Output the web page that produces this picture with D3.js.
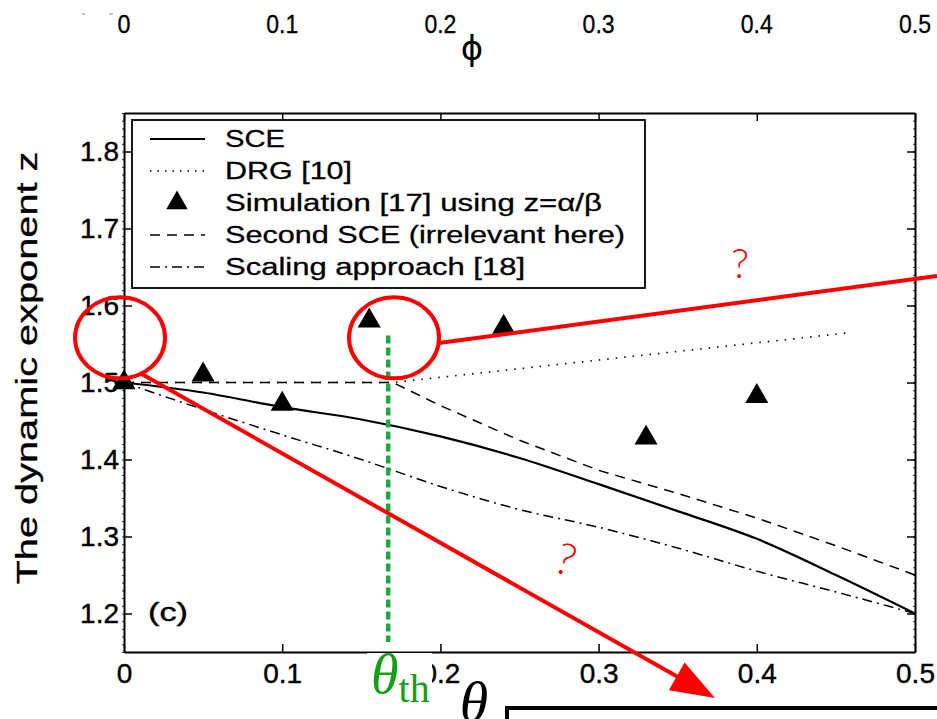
<!DOCTYPE html>
<html>
<head>
<meta charset="utf-8">
<script src="https://cdn.jsdelivr.net/npm/d3@7/dist/d3.min.js"></script>
<style>
  html, body { margin: 0; padding: 0; background: #fff; }
  svg { display: block; }
</style>
</head>
<body>
<svg id="chart" width="937" height="719"></svg>
<script>
// ---------------- data ----------------
const thetaTicks = [0, 0.1, 0.2, 0.3, 0.4, 0.5];
const phiTicks = [0, 0.1, 0.2, 0.3, 0.4, 0.5];
const zTicks = [1.2, 1.3, 1.4, 1.5, 1.6, 1.7, 1.8];

const sceTheta = [0, 0.05, 0.1, 0.15, 0.2, 0.25, 0.3, 0.35, 0.4, 0.45, 0.5];
const sceZ     = [1.5, 1.487, 1.468, 1.452, 1.43, 1.402, 1.368, 1.333, 1.297, 1.25, 1.2];

const drgTheta = [0, 0.17, 0.46];
const drgZ     = [1.5, 1.5, 1.565];

const simTheta = [0, 0.05, 0.1, 0.155, 0.24, 0.33, 0.4];
const simZ     = [1.5, 1.51, 1.472, 1.58, 1.572, 1.428, 1.482];

const secondTheta = [0, 0.17, 0.2, 0.25, 0.3, 0.35, 0.4, 0.45, 0.5];
const secondZ     = [1.5, 1.5, 1.47, 1.425, 1.386, 1.356, 1.324, 1.288, 1.25];

const scalingTheta = [0, 0.05, 0.1, 0.15, 0.2, 0.25, 0.3, 0.35, 0.4, 0.45, 0.5];
const scalingZ     = [1.5, 1.465, 1.432, 1.4, 1.365, 1.335, 1.312, 1.285, 1.255, 1.228, 1.2];

const legendLabels = ["SCE", "DRG [10]", "Simulation [17] using z=\u03b1/\u03b2",
                      "Second SCE (irrelevant here)", "Scaling approach [18]"];
const thetaTh = 0.167;

// ---------------- layout ----------------
const svg = d3.select("#chart");
const X0 = 124, X1 = 915, Y0 = 652, Y1 = 113;
const x = d3.scaleLinear().domain([0, 0.5]).range([X0, X1]);
const y = d3.scaleLinear().domain([1.15, 1.85]).range([Y0, Y1]);
const FONT = "'Liberation Sans', Arial, Helvetica, sans-serif";
const SERIF = "'Liberation Serif', 'Times New Roman', serif";

svg.append("rect").attr("width", 937).attr("height", 719).attr("fill", "#fff");

// ---------------- top phi axis (detached) ----------------
const gTop = svg.append("g").attr("font-family", FONT);
gTop.selectAll("text.phi").data(phiTicks).join("text")
  .attr("x", d => x(d)).attr("y", 33)
  .attr("text-anchor", "middle").attr("font-size", 25)
  .attr("textLength", d => d === 0 ? 13 : 32).attr("lengthAdjust", "spacingAndGlyphs")
  .attr("stroke", "#000").attr("stroke-width", 0.3)
  .text(d => d3.format("~g")(d));
gTop.append("text").attr("x", 472).attr("y", 60)
  .attr("text-anchor", "middle").attr("font-size", 34)
  .attr("font-family", "'DejaVu Sans', sans-serif").text("\u03d5");
// stray specks
gTop.append("line").attr("x1", 82).attr("x2", 85).attr("y1", 14).attr("y2", 14).attr("stroke", "#888").attr("stroke-width", 1);
gTop.append("line").attr("x1", 109).attr("x2", 113).attr("y1", 14).attr("y2", 14).attr("stroke", "#888").attr("stroke-width", 1);

// ---------------- axes ----------------
const fmt = d3.format(".1f");
const minorZ = d3.range(1.15, 1.8501, 0.01);

const gAx = svg.append("g");
const axB = gAx.append("g").attr("transform", `translate(0,${Y0})`)
  .call(d3.axisBottom(x).tickValues(thetaTicks).tickSizeInner(-8).tickSizeOuter(0).tickPadding(11).tickFormat(d3.format("~g")));
const axT = gAx.append("g").attr("transform", `translate(0,${Y1})`)
  .call(d3.axisTop(x).tickValues(thetaTicks).tickSizeInner(-8).tickSizeOuter(0).tickFormat(""));
const axL = gAx.append("g").attr("transform", `translate(${X0},0)`)
  .call(d3.axisLeft(y).tickValues(zTicks).tickSizeInner(-8).tickSizeOuter(0).tickPadding(5).tickFormat(fmt));
const axLm = gAx.append("g").attr("transform", `translate(${X0},0)`)
  .call(d3.axisLeft(y).tickValues(minorZ).tickSizeInner(2).tickSizeOuter(0).tickFormat(""));
const axR = gAx.append("g").attr("transform", `translate(${X1},0)`)
  .call(d3.axisRight(y).tickValues(zTicks).tickSizeInner(-8).tickSizeOuter(0).tickFormat(""));
const axRm = gAx.append("g").attr("transform", `translate(${X1},0)`)
  .call(d3.axisRight(y).tickValues(minorZ).tickSizeInner(-2).tickSizeOuter(0).tickFormat(""));

gAx.selectAll(".domain").attr("stroke", "#000").attr("stroke-width", 2);
gAx.selectAll(".tick line").attr("stroke", "#000").attr("stroke-width", 1.5);
axLm.selectAll(".tick line").attr("stroke-width", 0.8);
axRm.selectAll(".tick line").attr("stroke-width", 0.8);
axLm.select(".domain").remove();
axRm.select(".domain").remove();
gAx.selectAll(".tick text").attr("font-family", FONT).attr("font-size", 28).attr("fill", "#000")
  .attr("stroke", "#000").attr("stroke-width", 0.4);
axB.selectAll(".tick text").attr("dy", "0.71em");

// y label
svg.append("text")
  .attr("transform", "translate(37,368) rotate(-90)")
  .attr("text-anchor", "middle").attr("font-family", FONT).attr("font-size", 30)
  .attr("textLength", 433).attr("lengthAdjust", "spacingAndGlyphs")
  .attr("stroke", "#000").attr("stroke-width", 0.3)
  .text("The dynamic exponent  z");

// ---------------- series ----------------
const gS = svg.append("g");
const line = d3.line().x(d => x(d[0])).y(d => y(d[1])).curve(d3.curveMonotoneX);
const lineLin = d3.line().x(d => x(d[0])).y(d => y(d[1]));
const zip = (a, b) => a.map((v, i) => [v, b[i]]);

gS.append("path").datum(zip(scalingTheta, scalingZ)).attr("d", line)
  .attr("fill", "none").attr("stroke", "#000").attr("stroke-width", 1.5)
  .attr("stroke-dasharray", "10,5,2,5");
gS.append("path").datum(zip(secondTheta, secondZ)).attr("d", lineLin)
  .attr("fill", "none").attr("stroke", "#000").attr("stroke-width", 1.5)
  .attr("stroke-dasharray", "10,7");
gS.append("path").datum(zip(drgTheta, drgZ)).attr("d", lineLin)
  .attr("fill", "none").attr("stroke", "#000").attr("stroke-width", 1.6)
  .attr("stroke-dasharray", "1.5,7");
gS.append("path").datum(zip(sceTheta, sceZ)).attr("d", line)
  .attr("fill", "none").attr("stroke", "#000").attr("stroke-width", 2.2);

const tri = d3.symbol().type(d3.symbolTriangle).size(230);
gS.selectAll("path.sim").data(zip(simTheta, simZ)).join("path")
  .attr("class", "sim")
  .attr("transform", d => `translate(${x(d[0])},${y(d[1])})`)
  .attr("d", tri).attr("fill", "#000");

// ---------------- legend ----------------
const gL = svg.append("g").attr("font-family", FONT);
gL.append("rect").attr("x", 132).attr("y", 120).attr("width", 513).attr("height", 168)
  .attr("fill", "#fff").attr("stroke", "#000").attr("stroke-width", 1.8);
const legStyles = [
  { dash: null, w: 2.2 },
  { dash: "1.5,6", w: 1.6 },
  { marker: true },
  { dash: "10,7", w: 1.5 },
  { dash: "10,5,2,5", w: 1.5 }
];
const legWidths = [60, 127, 377, 400, 300];
legendLabels.forEach((lab, i) => {
  const by = 147 + i * 32;
  const st = legStyles[i];
  if (st.marker) {
    gL.append("path").attr("transform", `translate(177,${by - 8})`)
      .attr("d", d3.symbol().type(d3.symbolTriangle).size(200)).attr("fill", "#000");
  } else {
    gL.append("line").attr("x1", 150).attr("x2", 205).attr("y1", by - 8).attr("y2", by - 8)
      .attr("stroke", "#000").attr("stroke-width", st.w)
      .attr("stroke-dasharray", st.dash);
  }
  gL.append("text").attr("x", 225).attr("y", by).attr("font-size", 23.5)
    .attr("textLength", legWidths[i]).attr("lengthAdjust", "spacingAndGlyphs")
    .attr("stroke", "#000").attr("stroke-width", 0.3)
    .text(lab);
});

// (c)
svg.append("text").attr("x", 148).attr("y", 621).attr("font-family", FONT).attr("font-size", 26)
  .attr("textLength", 40).attr("lengthAdjust", "spacingAndGlyphs")
  .attr("stroke", "#000").attr("stroke-width", 0.4).text("(c)");

// ---------------- annotations ----------------
const gA = svg.append("g");
gA.append("line").attr("x1", x(thetaTh)).attr("x2", x(thetaTh))
  .attr("y1", y(1.561)).attr("y2", y(1.163))
  .attr("stroke", "#1caa3c").attr("stroke-width", 4.5).attr("stroke-dasharray", "8,4");

const red = "#ff0000";
const ell = [[-0.0025, 1.558], [0.1707, 1.558]];
ell.forEach(c => {
  gA.append("ellipse").attr("cx", x(c[0])).attr("cy", y(c[1])).attr("rx", 45).attr("ry", 40.5)
    .attr("fill", "none").attr("stroke", red).attr("stroke-width", 4);
});
gA.append("line").attr("x1", 439).attr("y1", 343).attr("x2", 937).attr("y2", 276)
  .attr("stroke", red).attr("stroke-width", 4);
const ax0 = [140, 373], tip = [715, 698];
const dx = tip[0] - ax0[0], dy = tip[1] - ax0[1], L = Math.hypot(dx, dy);
const ux = dx / L, uy = dy / L, hl = 44, hw = 16;
const bx = tip[0] - ux * hl, byy = tip[1] - uy * hl;
gA.append("line").attr("x1", ax0[0]).attr("y1", ax0[1]).attr("x2", bx + ux * 4).attr("y2", byy + uy * 4)
  .attr("stroke", red).attr("stroke-width", 4);
gA.append("path")
  .attr("d", `M${tip[0]},${tip[1]} L${bx - uy * hw},${byy + ux * hw} L${bx + uy * hw},${byy - ux * hw} Z`)
  .attr("fill", red);
gA.append("text").attr("x", 740).attr("y", 278).attr("text-anchor", "middle")
  .attr("font-family", "Lato, sans-serif").attr("font-weight", 300).attr("font-size", 42)
  .attr("fill", red).text("?");
gA.append("text").attr("transform", "translate(561,574) rotate(18)").attr("text-anchor", "middle")
  .attr("font-family", "Lato, sans-serif").attr("font-weight", 300).attr("font-size", 44)
  .attr("fill", red).text("?");

gA.append("rect").attr("x", 367).attr("y", 653).attr("width", 65).attr("height", 52).attr("fill", "#fff");
const th = gA.append("text").attr("x", 371).attr("y", 693).attr("fill", "#14a014").attr("font-family", SERIF);
th.append("tspan").attr("font-style", "italic").attr("font-size", 56).text("\u03b8");
th.append("tspan").attr("font-size", 40).attr("dy", 9).text("th");

svg.append("text").attr("x", 474).attr("y", 721).attr("text-anchor", "middle")
  .attr("font-family", SERIF).attr("font-style", "italic").attr("font-size", 58).text("\u03b8");
svg.append("path").attr("d", "M507,719 V708 H937").attr("fill", "none")
  .attr("stroke", "#000").attr("stroke-width", 4);
</script>
</body>
</html>
